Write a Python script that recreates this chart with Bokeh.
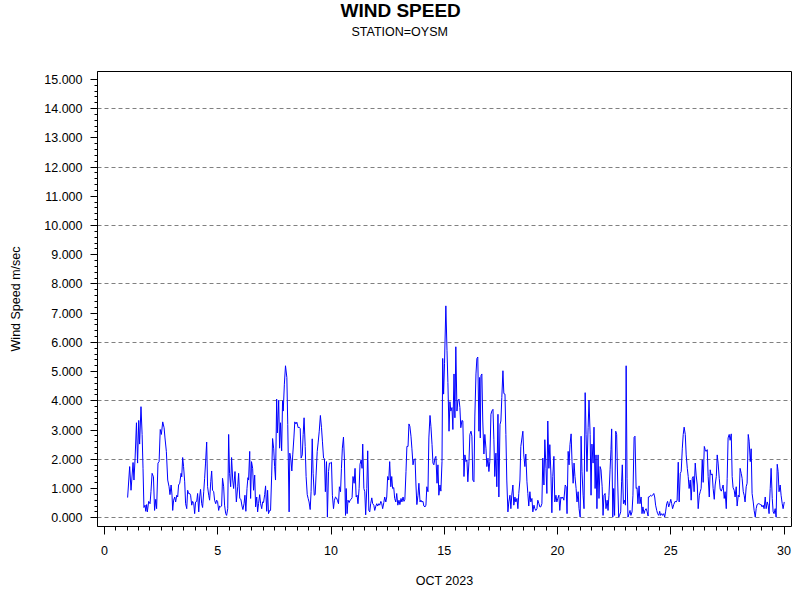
from bokeh.plotting import figure
from bokeh.models import Title, FixedTicker, NumeralTickFormatter, Range1d
from bokeh.embed import file_html
from bokeh.resources import INLINE

title_text = "WIND SPEED"
subtitle_text = "STATION=OYSM"
x_label = "OCT 2023"
y_label = "Wind Speed m/sec"

x_major = [0, 5, 10, 15, 20, 25, 30]
x_minor = [i * 0.5 for i in range(61)]
y_major = list(range(16))
y_minor = [round(i * 0.2, 1) for i in range(76)]
y_grid = [0, 2, 4, 6, 8, 10, 12, 14]

# day of October 2023 (fractional) and wind speed (m/sec)
day = [
    1.02, 1.11, 1.17, 1.26, 1.30, 1.35, 1.41, 1.46, 1.51, 1.55, 1.61, 1.66, 1.70, 1.74, 1.79, 1.82, 1.86, 1.89,
    1.95, 2.01, 2.05, 2.10, 2.16, 2.21, 2.26, 2.30, 2.36, 2.41, 2.46, 2.51, 2.57, 2.63, 2.67, 2.73, 2.79, 2.85,
    2.89, 2.94, 2.98, 3.01, 3.05, 3.10, 3.14, 3.19, 3.23, 3.27, 3.32, 3.38, 3.41, 3.45, 3.49, 3.54, 3.58, 3.63,
    3.67, 3.71, 3.76, 3.80, 3.85, 3.89, 3.94, 3.98, 4.02, 4.07, 4.11, 4.16, 4.20, 4.24, 4.29, 4.33, 4.38, 4.42,
    4.46, 4.51, 4.55, 4.60, 4.64, 4.69, 4.73, 4.77, 4.82, 4.86, 4.91, 4.95, 4.99, 5.04, 5.08, 5.13, 5.17, 5.21,
    5.26, 5.30, 5.35, 5.39, 5.44, 5.48, 5.52, 5.57, 5.61, 5.66, 5.70, 5.76,
    5.82, 5.88, 5.92, 5.97, 6.02, 6.07, 6.11, 6.16, 6.20, 6.24, 6.29, 6.33, 6.36, 6.41, 6.45, 6.49, 6.54, 6.58,
    6.63, 6.67, 6.72, 6.76, 6.80, 6.85, 6.89, 6.94, 6.98, 7.02, 7.07, 7.11, 7.16, 7.20, 7.24, 7.29, 7.33, 7.38,
    7.42, 7.47, 7.51, 7.55, 7.60, 7.63, 7.69, 7.73, 7.77, 7.82, 7.86, 7.89, 7.94, 7.99, 8.05, 8.09, 8.15, 8.18,
    8.23, 8.27, 8.31, 8.36, 8.40, 8.45, 8.49, 8.55, 8.59, 8.64, 8.68, 8.73, 8.77, 8.81, 8.86, 8.90, 8.95, 8.99,
    9.03, 9.08, 9.12, 9.17, 9.21, 9.26, 9.30, 9.34, 9.39, 9.43, 9.48, 9.53, 9.58, 9.62, 9.67, 9.71, 9.75, 9.80,
    9.84, 9.89, 9.93, 9.97, 10.02, 10.06, 10.11, 10.15, 10.20, 10.24, 10.28, 10.33, 10.37, 10.42, 10.46, 10.50,
    10.55, 10.59,
    10.64, 10.67, 10.71, 10.75, 10.80, 10.84, 10.89, 10.93, 10.97, 11.02, 11.06, 11.11, 11.15, 11.19, 11.24,
    11.28, 11.33, 11.37, 11.40, 11.45, 11.49, 11.53, 11.58, 11.62, 11.67, 11.71, 11.75, 11.80, 11.84, 11.89,
    11.93, 11.98, 12.02, 12.06, 12.11, 12.15, 12.20, 12.24, 12.28, 12.33, 12.37, 12.42, 12.46, 12.50, 12.55,
    12.59, 12.64, 12.68, 12.72, 12.77, 12.81, 12.86, 12.90, 12.95, 13.00, 13.04, 13.09, 13.13, 13.18, 13.22,
    13.26, 13.31, 13.35, 13.40, 13.44, 13.48, 13.53, 13.57, 13.62, 13.66, 13.71, 13.75, 13.79, 13.84, 13.88,
    13.93, 13.97, 14.01, 14.06, 14.10, 14.15, 14.19, 14.23, 14.28, 14.32, 14.37, 14.41, 14.46, 14.50, 14.54,
    14.59, 14.63, 14.68, 14.72, 14.76, 14.81, 14.85, 14.90, 14.93, 14.97, 15.01, 15.07, 15.12, 15.16, 15.21,
    15.25, 15.29, 15.34, 15.38, 15.43, 15.47,
    15.51, 15.56, 15.60, 15.65, 15.69, 15.73, 15.78, 15.82, 15.87, 15.91, 15.96, 16.00, 16.04, 16.09, 16.13,
    16.18, 16.22, 16.26, 16.31, 16.35, 16.40, 16.44, 16.48, 16.53, 16.56, 16.59, 16.62, 16.66, 16.70, 16.75,
    16.79, 16.84, 16.88, 16.93, 16.97, 17.01, 17.06, 17.10, 17.15, 17.19, 17.23, 17.28, 17.32, 17.37, 17.41,
    17.46, 17.50, 17.54, 17.59, 17.63, 17.68, 17.72, 17.76, 17.81, 17.85, 17.90, 17.94, 17.98, 18.03, 18.07,
    18.12, 18.16, 18.21, 18.25, 18.29, 18.34, 18.38, 18.43, 18.47, 18.51, 18.56, 18.60, 18.65, 18.69, 18.73,
    18.78, 18.82, 18.87, 18.91, 18.96, 19.00, 19.04, 19.09, 19.13, 19.18, 19.22, 19.26, 19.31, 19.35, 19.40,
    19.44, 19.49, 19.53, 19.57, 19.62, 19.66, 19.71, 19.75, 19.79, 19.84, 19.88, 19.93, 19.97, 20.01, 20.06,
    20.10, 20.15, 20.19, 20.23, 20.28, 20.34,
    20.38, 20.42, 20.47, 20.51, 20.55, 20.60, 20.64, 20.69, 20.73, 20.77, 20.82, 20.86, 20.91, 20.95, 21.00,
    21.04, 21.08, 21.13, 21.17, 21.22, 21.26, 21.30, 21.35, 21.39, 21.44, 21.48, 21.52, 21.57, 21.61, 21.66,
    21.70, 21.74, 21.79, 21.83, 21.88, 21.92, 21.97, 22.01, 22.05, 22.10, 22.14, 22.19, 22.23, 22.27, 22.32,
    22.36, 22.39, 22.44, 22.48, 22.52, 22.57, 22.61, 22.66, 22.70, 22.74, 22.79, 22.83, 22.86, 22.91, 22.95,
    23.00, 23.03, 23.07, 23.11, 23.16, 23.20, 23.24, 23.29, 23.33, 23.38, 23.42, 23.47, 23.51, 23.55, 23.60,
    23.64, 23.69, 23.73, 23.77, 23.82, 23.86, 23.91, 23.95, 24.00, 24.01, 24.05, 24.11, 24.16, 24.20, 24.25,
    24.29, 24.33, 24.38, 24.42, 24.47, 24.51, 24.55, 24.60, 24.64, 24.69, 24.73, 24.77, 24.82, 24.86, 24.91,
    24.95, 25.00, 25.04, 25.08, 25.13, 25.19,
    25.24, 25.28, 25.33, 25.37, 25.42, 25.46, 25.51, 25.55, 25.59, 25.64, 25.68, 25.73, 25.77, 25.81, 25.86,
    25.90, 25.95, 25.99, 26.03, 26.08, 26.12, 26.17, 26.21, 26.26, 26.30, 26.34, 26.39, 26.43, 26.48, 26.52,
    26.56, 26.61, 26.65, 26.70, 26.74, 26.78, 26.83, 26.87, 26.92, 26.96, 27.01, 27.05, 27.09, 27.14, 27.18,
    27.23, 27.27, 27.31, 27.36, 27.40, 27.45, 27.49, 27.53, 27.58, 27.62, 27.67, 27.71, 27.75, 27.80, 27.84,
    27.89, 27.93, 27.98, 28.02, 28.06, 28.11, 28.15, 28.20, 28.24, 28.28, 28.33, 28.37, 28.42, 28.46, 28.51,
    28.55, 28.59, 28.64, 28.68, 28.73, 28.77, 28.81, 28.86, 28.90, 28.95, 28.99, 29.03, 29.08, 29.12, 29.17,
    29.21, 29.26, 29.30, 29.34, 29.39, 29.43, 29.48, 29.52, 29.56, 29.61, 29.65, 29.70, 29.74, 29.78, 29.83,
    29.87, 29.92, 29.96, 30.01,
]

speed = [
    0.69, 1.75, 0.94, 1.89, 1.29, 2.04, 3.25, 1.87, 3.33, 2.52, 3.80, 2.85, 1.69, 0.35, 0.43, 0.22, 0.45, 0.20,
    0.56, 0.48, 0.89, 1.52, 1.40, 0.25, 0.63, 0.31, 1.87, 1.92, 3.02, 2.85, 3.28, 3.08, 2.73, 2.27, 1.29, 1.06,
    0.79, 1.12, 0.77, 0.25, 0.60, 0.71, 0.54, 0.77, 0.71, 1.12, 1.18, 1.52, 1.40, 2.06, 1.75, 1.23, 0.48, 0.31,
    0.94, 0.83, 0.83, 0.77, 0.43, 0.56, 0.48, 0.14, 0.54, 0.56, 0.83, 0.20, 0.71, 0.97, 0.48, 0.35, 0.89, 1.35,
    1.87, 2.59, 1.06, 0.77, 0.60, 1.23, 1.60, 0.94, 0.89, 0.60, 0.48, 0.60, 0.56, 0.25, 0.40, 0.37, 0.40, 1.35,
    1.06, 0.43, 0.14, 0.08, 0.31, 2.85, 1.52, 1.06, 2.06, 1.29, 1.00, 1.58,
    0.54, 1.06, 1.52, 0.66, 0.63, 0.40, 0.28, 0.48, 0.77, 0.22, 1.00, 1.37, 1.29, 2.27, 0.66, 1.92, 1.69, 0.94,
    1.46, 0.37, 0.71, 0.20, 0.48, 0.79, 0.48, 0.31, 0.54, 0.52, 0.79, 1.09, 0.22, 0.94, 0.14, 0.25, 0.25, 1.46,
    2.71, 2.36, 1.75, 1.29, 4.06, 2.90, 4.02, 2.38, 3.25, 2.29, 4.00, 3.65, 4.57, 5.20, 4.80, 3.19, 0.20, 2.21,
    1.98, 1.60, 2.15, 2.73, 3.28, 3.21, 3.27, 3.08, 3.10, 3.05, 2.04, 2.15, 2.85, 3.42, 2.44, 1.41, 0.79, 0.66,
    0.54, 0.28, 0.89, 2.70, 1.52, 0.77, 0.79, 1.46, 2.27, 2.56, 2.96, 3.50, 3.08, 2.62, 2.04, 2.02, 0.89, 1.92,
    0.02, 1.58, 1.87, 1.87, 1.90, 0.77, 0.31, 0.60, 0.71, 0.68, 0.60, 0.48, 1.06, 0.89, 1.69, 2.38,
    2.76, 2.04,
    0.08, 1.00, 0.14, 0.60, 0.52, 0.60, 0.63, 0.69, 1.41, 1.18, 1.69, 0.71, 0.77, 0.48, 1.00,
    1.83, 1.98, 1.69, 2.52, 1.00, 0.89, 0.10, 1.00, 2.29, 0.25, 0.20, 0.48, 0.68, 0.48, 0.43,
    0.25, 0.40, 0.48, 0.40, 0.48, 0.43, 0.56, 0.48, 0.31, 0.52, 0.71, 0.54, 0.71, 1.41, 1.29,
    1.92, 1.06, 1.41, 1.00, 1.03, 0.66, 0.54, 0.83, 0.43, 0.60, 0.45, 0.66, 0.54, 0.71, 0.56,
    0.63, 1.58, 2.44, 2.44, 3.21, 3.13, 2.79, 2.38, 1.81, 1.98, 2.02, 1.12, 0.45, 0.77, 1.18,
    0.54, 0.60, 0.54, 0.56, 0.40, 0.37, 0.43, 1.06, 0.89, 2.73, 3.50, 3.13, 2.50, 1.87, 1.81,
    2.04, 2.10, 1.18, 1.81, 0.77, 1.12, 0.91, 1.92, 5.45, 4.23, 5.27, 7.25, 5.73, 4.63, 2.96,
    3.97, 3.65, 3.77, 3.02, 4.92, 3.42,
    5.85, 3.65, 4.00, 4.06, 3.77, 3.08, 3.33, 3.31, 1.41, 2.15, 1.92, 1.98, 1.23, 1.92, 2.85,
    2.96, 2.79, 1.29, 1.23, 3.48, 4.92, 5.45, 5.50, 2.96, 4.80, 2.73, 4.86, 4.92, 3.31, 2.18,
    2.85, 2.38, 1.75, 2.04, 1.58, 1.92, 3.54, 3.65, 3.71, 2.67, 1.41, 2.21, 1.06, 3.54, 0.71,
    3.19, 3.31, 4.11, 5.03, 4.25, 4.23, 2.85, 1.29, 0.20, 0.54, 0.77, 0.31, 0.77, 1.12, 0.43,
    0.71, 0.54, 0.66, 0.31, 0.83, 1.29, 2.44, 2.73, 2.96, 2.15, 1.75, 2.18, 1.23, 0.83, 0.40,
    0.89, 0.54, 0.66, 0.20, 0.43, 0.31, 0.25, 0.31, 0.60, 0.48, 0.37, 0.37, 0.48, 2.04, 1.12,
    2.67, 1.69, 0.83, 3.31, 1.69, 2.50, 1.46, 0.17, 1.41, 2.10, 0.54, 0.77, 0.54, 0.66, 0.77,
    0.25, 0.71, 0.66, 0.71, 0.60, 1.12,
    1.06, 0.14, 2.27, 1.81, 2.50, 2.87, 1.92, 1.18, 1.87, 1.41, 1.00, 0.54, 0.89, 0.31, 0.02,
    2.79, 1.58, 0.77, 0.31, 4.28, 2.85, 1.58, 3.08, 4.02, 2.85, 0.77, 2.52, 1.87, 3.10, 1.00,
    2.15, 0.31, 2.15, 0.66, 1.75, 1.64, 1.06, 0.08, 0.77, 0.83, 0.31, 0.60, 0.25, 0.77, 1.64,
    2.33, 3.04, 0.02, 1.00, 0.08, 2.96, 2.85, 1.12, 0.02, 0.08, 0.20, 1.23, 1.81, 0.48, 0.60,
    0.43, 5.20, 1.35, 0.02, 0.14, 0.25, 0.08, 0.20, 0.77, 2.75, 2.79, 1.00, 1.03, 0.48, 1.09,
    0.48, 0.71, 0.14, 0.37, 0.14, 0.25, 0.31, 0.22, 0.06, 0.71, 0.71, 0.77, 0.74, 0.77, 0.83,
    0.71, 0.43, 0.25, 0.14, 0.08, 0.22, 0.08, 0.14, 0.08, 0.14, 0.02, 0.20, 0.48, 0.56, 0.37,
    0.48, 0.63, 0.48, 0.31, 0.45, 0.56,
    0.54, 0.60, 1.90, 0.54, 1.52, 1.58, 2.38, 2.85, 3.10, 2.85, 2.15, 1.69, 1.41, 1.00, 1.29,
    0.60, 1.35, 1.41, 0.89, 1.87, 1.46, 1.12, 0.31, 0.77, 0.89, 1.00, 1.98, 1.21, 2.44, 2.33,
    2.27, 2.33, 1.41, 0.71, 1.64, 1.46, 1.50, 1.00, 0.63, 1.12, 1.41, 2.15, 1.87, 1.35, 0.98,
    0.91, 1.00, 1.12, 0.66, 0.89, 0.31, 1.35, 2.73, 2.85, 2.65, 2.87, 1.41, 1.03, 0.94, 0.71,
    1.06, 0.40, 0.77, 0.71, 1.69, 1.52, 1.35, 0.89, 0.77, 0.54, 1.06, 1.18, 2.85, 2.62, 1.92,
    2.36, 0.83, 0.54, 0.25, 0.02, 0.31, 0.45, 0.48, 0.48, 0.45, 0.45, 0.37, 0.43, 0.31, 0.71,
    0.31, 0.54, 0.43, 0.14, 1.00, 1.69, 0.66, 0.20, 0.14, 0.31, 0.02, 1.83, 1.58, 0.89, 1.12,
    0.77, 0.48, 0.31, 0.54,
]

FONT = "Liberation Sans"

p = figure(width=792, height=592, output_backend="svg", toolbar_location=None,
           x_range=Range1d(-0.31, 30.33), y_range=Range1d(-0.30, 15.27),
           min_border_left=97, min_border_right=1, min_border_top=71, min_border_bottom=66)

# stacked above the frame: spacer, subtitle, then main title (outermost)
p.add_layout(Title(text=" ", text_font=FONT, text_font_size="12px", standoff=12), "above")
p.add_layout(Title(text=subtitle_text, align="left", offset=254, text_font=FONT,
                   text_font_size="12.5px", text_font_style="normal", text_color="black",
                   text_line_height=1.0, standoff=10), "above")
p.add_layout(Title(text=title_text, align="left", offset=243, text_font=FONT,
                   text_font_size="19px", text_font_style="bold", text_color="black",
                   text_line_height=1.0, standoff=-6), "above")

p.line(day, speed, line_color="#0000FF", line_width=1)

p.outline_line_color = "black"
p.outline_line_width = 1
p.background_fill_color = "white"
p.border_fill_color = "white"

p.xgrid.grid_line_color = None
p.ygrid.ticker = FixedTicker(ticks=y_grid)
p.ygrid.grid_line_color = "#808080"
p.ygrid.grid_line_dash = "4 3"
p.ygrid.grid_line_width = 1

xa = p.xaxis[0]
xa.ticker = FixedTicker(ticks=x_major, minor_ticks=x_minor)
xa.axis_line_color = None
xa.major_tick_out = 8
xa.major_tick_in = 0
xa.minor_tick_out = 4
xa.minor_tick_in = 0
xa.major_tick_line_color = "black"
xa.minor_tick_line_color = "black"
xa.major_label_text_font = FONT
xa.major_label_text_font_size = "12.5px"
xa.major_label_text_color = "black"
xa.major_label_standoff = 11
xa.axis_label = x_label
xa.axis_label_text_font = FONT
xa.axis_label_text_font_size = "12.5px"
xa.axis_label_text_font_style = "normal"
xa.axis_label_text_color = "black"
xa.axis_label_standoff = 16

ya = p.yaxis[0]
ya.ticker = FixedTicker(ticks=y_major, minor_ticks=y_minor)
ya.formatter = NumeralTickFormatter(format="0.000")
ya.axis_line_color = "black"
ya.major_tick_out = 7
ya.major_tick_in = 0
ya.minor_tick_out = 3
ya.minor_tick_in = 0
ya.major_tick_line_color = "black"
ya.minor_tick_line_color = "black"
ya.major_label_text_font = FONT
ya.major_label_text_font_size = "12.5px"
ya.major_label_text_color = "black"
ya.major_label_standoff = 8
ya.axis_label = y_label
ya.axis_label_text_font = FONT
ya.axis_label_text_font_size = "12.5px"
ya.axis_label_text_font_style = "normal"
ya.axis_label_text_color = "black"
ya.axis_label_standoff = 18

open("out.html", "w").write(file_html(p, INLINE))
